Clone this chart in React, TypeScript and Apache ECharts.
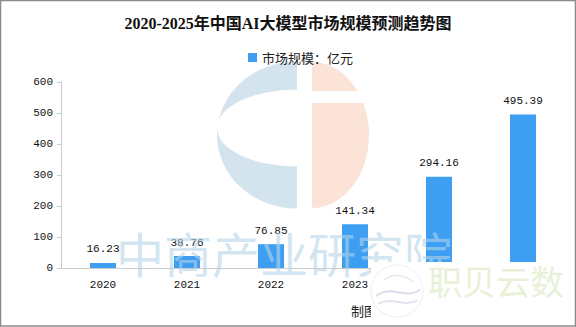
import React, { useEffect, useRef } from "react";
import * as echarts from "echarts";

const categories = ["2020", "2021", "2022", "2023", "2024", "2025"];
const marketSize = [16.23, 38.76, 76.85, 141.34, 294.16, 495.39];
const seriesName = "市场规模：亿元";
const titleText = "2020-2025年中国AI大模型市场规模预测趋势图";
const watermarkText = "中商产业研究院";
const brandText = "职贝云数";
const creditText = "制图：中商产业研究院";

export default function App() {
  const ref = useRef<HTMLDivElement>(null);
  useEffect(() => {
    if (!ref.current) return;
    const chart = echarts.init(ref.current, null, { renderer: "svg" });
    const mono = "'Liberation Mono', 'Noto Sans CJK SC', monospace";
    chart.setOption({
      animation: false,
      backgroundColor: "#ffffff",
      title: {
        text: titleText,
        left: "center",
        top: 10,
        textStyle: {
          fontSize: 16,
          fontWeight: "bold",
          color: "#111",
          fontFamily: "'Liberation Serif', 'Noto Sans CJK SC', serif",
        },
      },
      legend: {
        data: [seriesName],
        top: 46,
        left: 243,
        itemWidth: 9,
        itemHeight: 9,
        itemGap: 6,
        icon: "rect",
        textStyle: { fontSize: 13, color: "#222", fontFamily: "'Noto Sans CJK SC', sans-serif" },
      },
      grid: { left: 61, right: 11, top: 82, bottom: 59, containLabel: false },
      xAxis: {
        type: "category",
        data: categories,
        axisLine: { lineStyle: { color: "#cccccc" } },
        axisTick: { lineStyle: { color: "#cccccc" }, length: 5 },
        axisLabel: { color: "#111", fontSize: 11, fontFamily: mono, margin: 11 },
      },
      yAxis: {
        type: "value",
        min: 0,
        max: 600,
        interval: 100,
        axisLine: { show: true, lineStyle: { color: "#cccccc" } },
        axisTick: { show: true, lineStyle: { color: "#cccccc" }, length: 4 },
        splitLine: { show: false },
        axisLabel: { color: "#111", fontSize: 11, fontFamily: mono, margin: 8 },
      },
      series: [
        {
          name: seriesName,
          type: "bar",
          data: marketSize,
          barWidth: 26,
          itemStyle: { color: "#3d9ef2" },
          label: {
            show: true,
            position: "top",
            distance: 8,
            color: "#111",
            fontSize: 11,
            fontFamily: mono,
          },
        },
      ],
      graphic: [
        {
          type: "group",
          z: 0,
          silent: true,
          children: [
            {
              type: "sector",
              shape: { cx: 297, cy: 135, r: 80, startAngle: Math.PI / 2, endAngle: (Math.PI * 3) / 2, clockwise: true },
              scaleY: 0.92,
              originY: 135,
              style: { fill: "#d3e4ee" },
            },
            {
              type: "sector",
              shape: { cx: 297, cy: 128, r: 80, startAngle: Math.PI / 2, endAngle: (Math.PI * 3) / 2, clockwise: true },
              scaleY: 0.48,
              originY: 128,
              style: { fill: "#ffffff" },
            },
            {
              type: "sector",
              shape: { cx: 312, cy: 135, r: 57, startAngle: -Math.PI / 2, endAngle: Math.PI / 2, clockwise: true },
              scaleY: 1.28,
              originY: 135,
              style: { fill: "#fbe3d8" },
            },
            {
              type: "rect",
              shape: { x: 312, y: 91, width: 70, height: 12 },
              style: { fill: "#ffffff" },
            },
          ],
        },
        {
          type: "text",
          z: 100,
          silent: true,
          left: 116,
          top: 228,
          style: {
            text: watermarkText,
            fontSize: 48,
            fontFamily: "'Noto Sans CJK SC', sans-serif",
            fill: "rgba(180,212,232,0.62)",
          },
        },
        {
          type: "text",
          z: 100,
          left: 351,
          top: 304,
          style: {
            text: creditText,
            fontSize: 13,
            fontFamily: "'Noto Sans CJK SC', sans-serif",
            fill: "#222",
          },
        },
        {
          type: "rect",
          z: 110,
          silent: true,
          shape: { x: 371, y: 262, width: 203, height: 63 },
          style: { fill: "#ffffff" },
        },
        {
          type: "circle",
          z: 111,
          silent: true,
          shape: { cx: 397, cy: 291, r: 26 },
          style: { fill: "#ffffff", stroke: "#eeeeee", lineWidth: 1 },
        },
        {
          type: "bezierCurve",
          z: 112,
          silent: true,
          shape: { x1: 376, y1: 296, x2: 420, y2: 290, cpx1: 392, cpy1: 284, cpx2: 404, cpy2: 300 },
          style: { stroke: "#d6dde6", lineWidth: 2, fill: "none" },
        },
        {
          type: "bezierCurve",
          z: 112,
          silent: true,
          shape: { x1: 378, y1: 304, x2: 418, y2: 300, cpx1: 392, cpy1: 296, cpx2: 404, cpy2: 308 },
          style: { stroke: "#dfe5ec", lineWidth: 2, fill: "none" },
        },
        {
          type: "bezierCurve",
          z: 112,
          silent: true,
          shape: { x1: 384, y1: 280, x2: 414, y2: 282, cpx1: 394, cpy1: 272, cpx2: 406, cpy2: 276 },
          style: { stroke: "#e3e8ee", lineWidth: 1.5, fill: "none" },
        },
        {
          type: "text",
          z: 112,
          silent: true,
          left: 428,
          top: 263,
          style: {
            text: brandText,
            fontSize: 34,
            fontFamily: "'Noto Sans CJK SC', sans-serif",
            fill: "#e8f1d6",
          },
        },
        {
          type: "rect",
          z: 120,
          silent: true,
          shape: { x: 0.5, y: 0.5, width: 575, height: 325.5 },
          style: { fill: "none", stroke: "#8a8a8a", lineWidth: 1.5 },
        },
      ],
    });
    return () => chart.dispose();
  }, []);
  return (
    <div
      ref={ref}
      style={{ position: "absolute", left: 0, top: 0, width: 576, height: 327 }}
    />
  );
}
